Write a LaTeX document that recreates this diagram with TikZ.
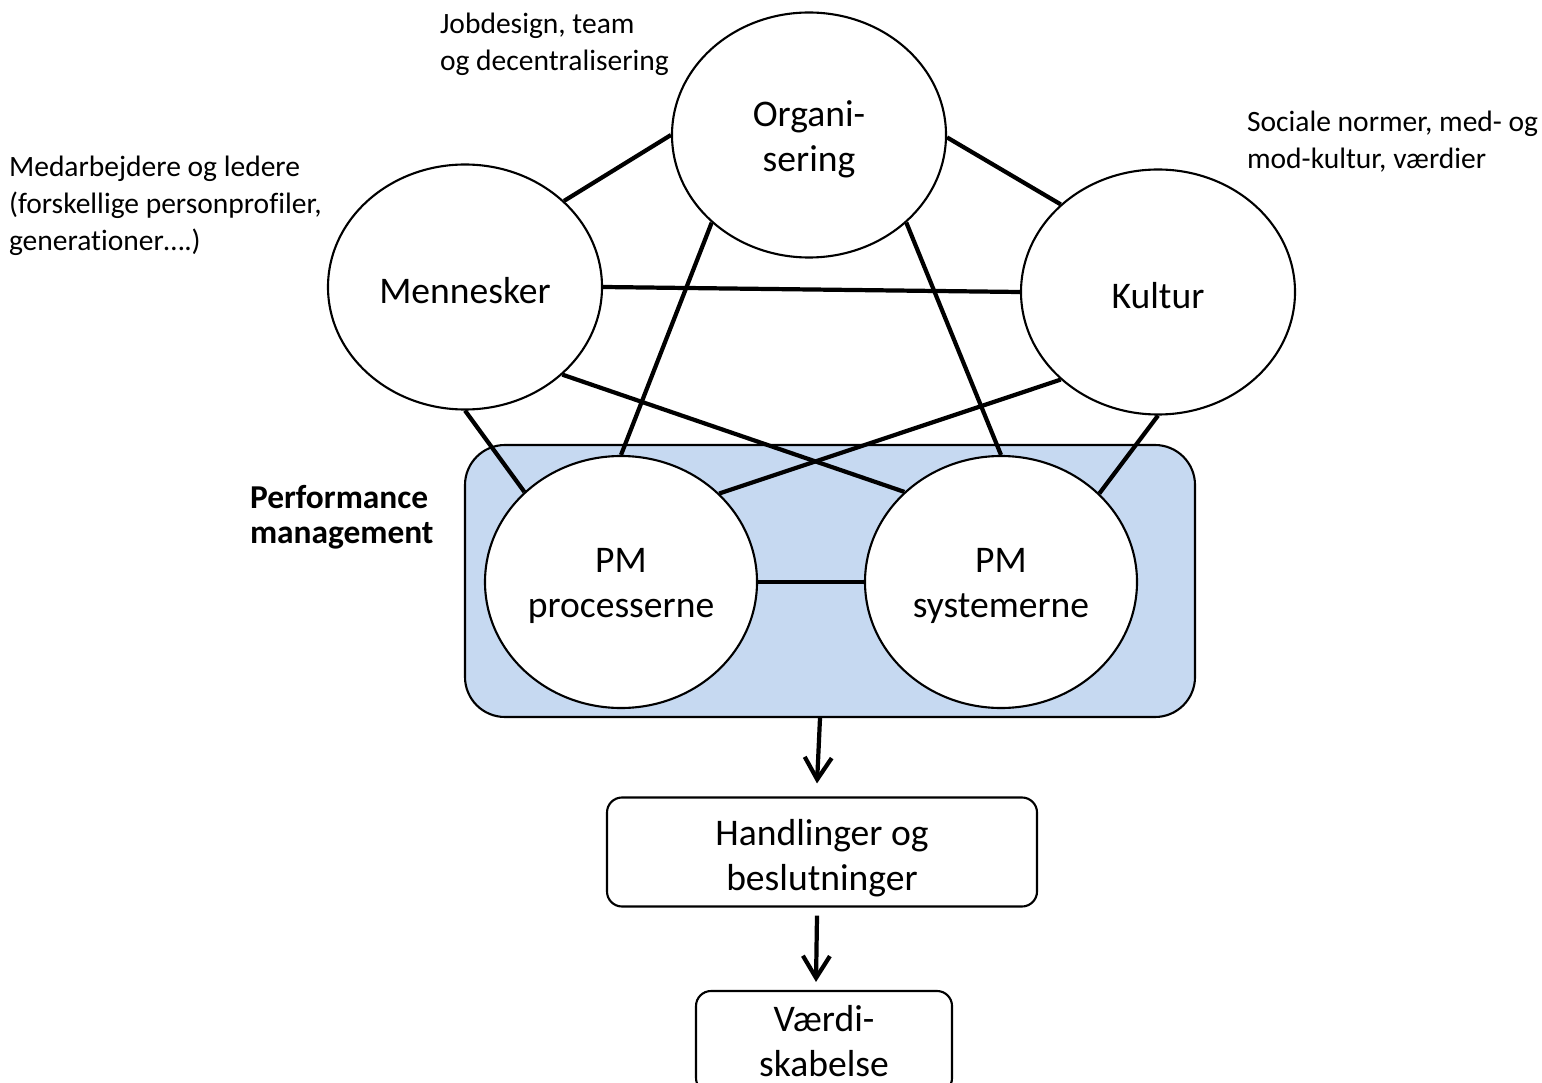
\documentclass[tikz,border=0pt]{standalone}
\usepackage{fontspec}
\setmainfont{Carlito}[Ligatures={NoCommon}]
\usetikzlibrary{shapes.geometric,arrows.meta}
\definecolor{pmblue}{RGB}{198,217,241}

\begin{document}
\begin{tikzpicture}[node distance=2cm, >={Straight Barb[length=0.22cm,width=0.27cm]}, line width=0.6pt]
    % Styles
    \tikzstyle{txt} = [align=center, yshift=-0.04cm, font={\fontsize{10.7}{12.8}\selectfont}]
    \tikzstyle{area} = [draw, ellipse, fill=white, minimum width=2.74cm, minimum height=2.45cm, inner sep=0pt]
    \tikzstyle{pm} = [area, minimum width=2.72cm, minimum height=2.52cm]
    \tikzstyle{pmbox} = [draw, rectangle, rounded corners=0.4cm, fill=pmblue, minimum width=7.3cm, minimum height=2.72cm]
    \tikzstyle{block} = [draw, rectangle, rounded corners=0.15cm]
    \tikzstyle{note} = [anchor=north west, inner sep=0pt, align=left, font={\fontsize{8.4}{10.5}\selectfont}]
    \tikzstyle{link} = [line width=1.2pt]
    \tikzstyle{flow} = [->, line width=1.2pt]

    \useasboundingbox (0,0) rectangle (15.42,-10.83);

    % Nodes
    \node [pmbox] (pmbox) at (8.30,-5.81) {};
    \node [area, label={[txt]center:Organi-\\sering}] (org) at (8.09,-1.35) {};
    \node [area, label={[txt]center:Mennesker}] (men) at (4.65,-2.87) {};
    \node [area, label={[txt]center:Kultur}] (kul) at (11.58,-2.92) {};
    \node [pm, label={[txt]center:PM\\processerne}] (proc) at (6.21,-5.82) {};
    \node [pm, label={[txt]center:PM\\systemerne}] (sys) at (10.01,-5.82) {};
    \node [block, below of=pmbox, node distance=2.71cm, xshift=-0.08cm, minimum width=4.3cm, minimum height=1.09cm,
           label={[txt, yshift=-0.02cm]center:Handlinger og\\beslutninger}] (hand) {};
    \node [block, below of=hand, node distance=1.90cm, xshift=0.02cm, minimum width=2.56cm, minimum height=1.02cm,
           label={[txt, yshift=0.05cm, inner sep=0pt]center:Værdi-\\skabelse}] (vaerdi) {};

    % Labels
    \node [note] (jobtxt) at (4.39,-0.12) {Jobdesign, team\\og decentralisering};
    \node [note] (medtxt) at (0.08,-1.55) {Medarbejdere og ledere\\(forskellige personprofiler,\\generationer….)};
    \node [note] (soctxt) at (12.46,-1.10) {Sociale normer, med- og\\mod-kultur, værdier};
    \node [note, font={\bfseries\fontsize{9.5}{10}\selectfont}] (pmtxt) at (2.49,-4.84) {Performance\\management};

    % Connections
    \draw [link] (men.41) -- (org.180);
    \draw [link] (org.-1) -- (kul.138);
    \draw [link] (men.0) -- (kul.180);
    \draw [link] (org.222) -- (proc.90);
    \draw [link] (org.-42) -- (sys.90);
    \draw [link] (men.-42) -- (sys.137);
    \draw [link] (kul.222) -- (proc.42);
    \draw [link] (men.-90) -- (proc.137);
    \draw [link] (kul.-90) -- (sys.42);
    \draw [link] (proc) -- (sys);
    \draw [flow] ([xshift=-0.1cm]pmbox.south) -- ([xshift=-0.05cm, yshift=0.13cm]hand.north);
    \draw [flow] ([xshift=-0.05cm, yshift=-0.08cm]hand.south) -- ([xshift=-0.08cm, yshift=0.08cm]vaerdi.north);
\end{tikzpicture}
\end{document}
